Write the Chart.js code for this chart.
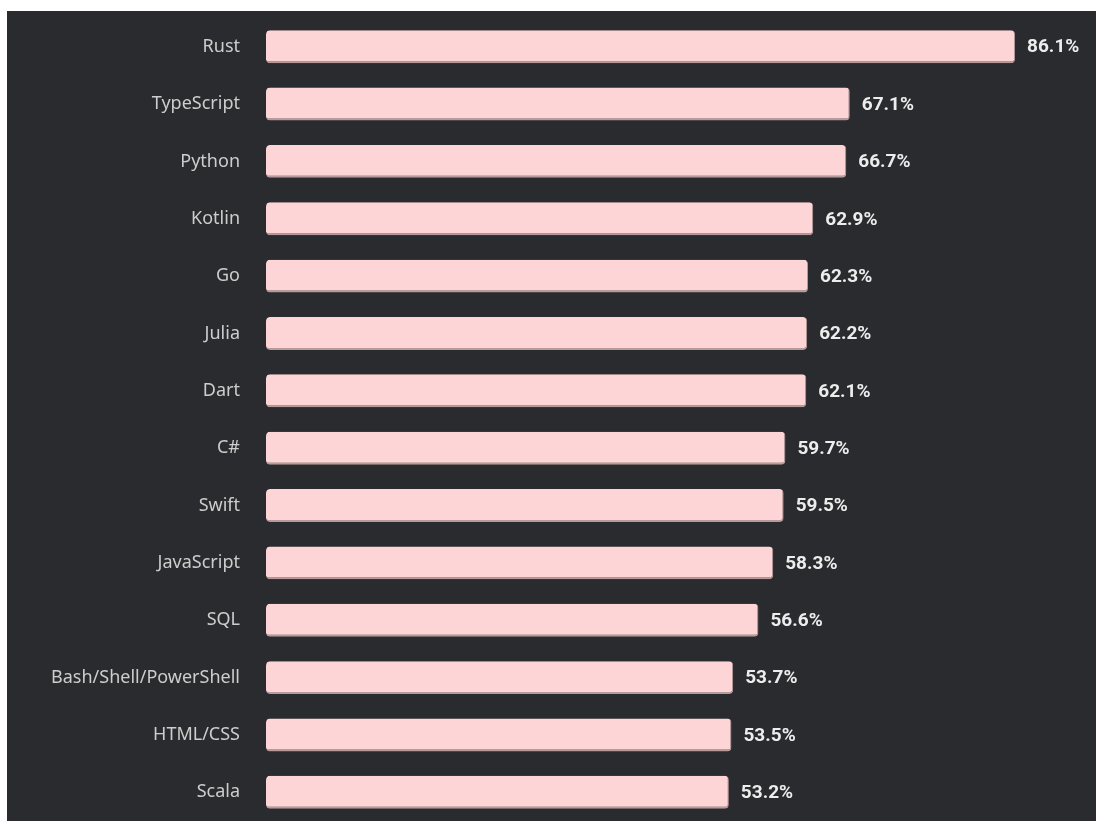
<!DOCTYPE html>
<html lang="en">
<head>
  <meta charset="UTF-8" />
  <title>Most loved languages</title>
  <script src="https://cdn.jsdelivr.net/npm/chart.js"></script>
  <style>
    html, body { margin: 0; padding: 0; background: #ffffff; }
    #wrap {
      position: absolute;
      left: 7px;
      top: 11px;
      width: 1089px;
      height: 810px;
      background: #2a2b2e;
    }
  </style>
</head>
<body>
  <div id="wrap">
    <canvas id="graphique"></canvas>
  </div>

  <script>
    // Données
    const languages = [
      'Rust', 'TypeScript', 'Python', 'Kotlin', 'Go', 'Julia', 'Dart',
      'C#', 'Swift', 'JavaScript', 'SQL', 'Bash/Shell/PowerShell', 'HTML/CSS', 'Scala'
    ];
    const lovedPct = [86.1, 67.1, 66.7, 62.9, 62.3, 62.2, 62.1, 59.7, 59.5, 58.3, 56.6, 53.7, 53.5, 53.2];

    // étiquettes de valeur au bout des barres
    const valueLabels = {
      id: 'valueLabels',
      afterDatasetsDraw(chart) {
        const ctx = chart.ctx;
        const meta = chart.getDatasetMeta(0);
        ctx.save();
        ctx.font = 'bold 19px Roboto';
        ctx.fillStyle = '#ededed';
        ctx.textAlign = 'left';
        ctx.textBaseline = 'middle';
        meta.data.forEach((bar, i) => {
          ctx.fillText(lovedPct[i].toFixed(1) + '%', bar.x + 12, bar.y + 1);
        });
        ctx.restore();
      }
    };

    const ctx = document.getElementById('graphique').getContext('2d');

    const chart = new Chart(ctx, {
      type: 'bar',
      data: {
        labels: languages,
        datasets: [{
          data: lovedPct,
          backgroundColor: '#fdd5d6',
          borderColor: '#b89a9c',
          borderWidth: { top: 0, left: 0, right: 1, bottom: 2 },
          borderSkipped: false,
          borderRadius: 4,
          barPercentage: 0.82,
          categoryPercentage: 0.7
        }]
      },
      options: {
        indexAxis: 'y',
        responsive: true,
        maintainAspectRatio: false,
        animation: false,
        layout: { padding: { top: 7, right: 3.5, bottom: 0, left: 0 } },
        scales: {
          x: {
            display: false,
            min: 0,
            max: 95
          },
          y: {
            grid: { display: false, drawTicks: false },
            border: { display: false },
            afterFit(scale) {
              // largeur fixe, pas de marge verticale ajoutée par le padding des ticks
              scale.width = 259;
              scale.paddingTop = 0;
              scale.paddingBottom = 0;
            },
            ticks: {
              color: '#cdcdcd',
              padding: 26,
              font: { family: 'Noto Sans', size: 18 }
            }
          }
        },
        plugins: {
          legend: { display: false },
          tooltip: { enabled: false }
        }
      },
      plugins: [valueLabels]
    });
  </script>
</body>
</html>
